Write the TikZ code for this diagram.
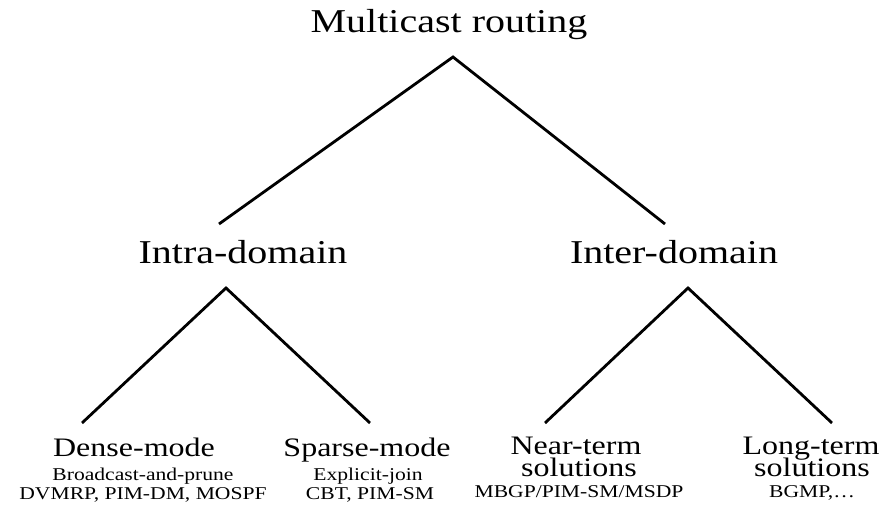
\documentclass[tikz,border=0pt]{standalone}
\usepackage{fontspec}
\setmainfont{Liberation Serif}
\usetikzlibrary{positioning}

\tikzset{
  branch/.style={line width=2.1pt},
  bigtext/.style={font=\fontsize{25}{30}\selectfont, xscale=1.2, anchor=base, inner sep=0pt},
  midtext/.style={font=\fontsize{20}{24}\selectfont, xscale=1.2, anchor=base, inner sep=0pt},
  smalltext/.style={font=\fontsize{13.5}{16}\selectfont, xscale=1.2, anchor=base, inner sep=0pt}
}

\begin{document}
\begin{tikzpicture}
      [x=0.75pt, y=-0.75pt]
      \useasboundingbox (0,0) rectangle (882,516);
      % nodes %
      \node[bigtext] (mc) at (449,33) {Multicast routing};
      \node[bigtext] (intra) at (243,264) {Intra-domain};
      \node[bigtext] (inter) at (674,264) {Inter-domain};

      \node[midtext] (dense) at (134,456) {Dense-mode};
      \node[smalltext] (denseA) at (143,480) {Broadcast-and-prune};
      \node[smalltext] (denseB) at (143,499) {DVMRP, PIM-DM, MOSPF};

      \node[midtext] (sparse) at (367,456) {Sparse-mode};
      \node[smalltext] (sparseA) at (368,480) {Explicit-join};
      \node[smalltext] (sparseB) at (370,499) {CBT, PIM-SM};

      \node[midtext, text depth=0pt] (near) at (576,455) {Near-term};
      \node[midtext] (nearA) at (579,477) {solutions};
      \node[smalltext] (nearB) at (579,498) {MBGP/PIM-SM/MSDP};

      \node[midtext, text depth=0pt] (long) at (811,455) {Long-term};
      \node[midtext] (longA) at (812,477) {solutions};
      \node[smalltext] (longB) at (812,498) {BGMP,…};

      % branch points %
      \coordinate (mc-tip) at (453,57);
      \coordinate (intra-in) at (219,224);
      \coordinate (inter-in) at (665,224);
      \coordinate (intra-tip) at (226,288);
      \coordinate (dense-in) at (82,423);
      \coordinate (sparse-in) at (370,423);
      \coordinate (inter-tip) at (688,288);
      \coordinate (near-in) at (545,423);
      \coordinate (long-in) at (832,423);

      % edges %
      \draw[branch] (intra-in) -- (mc-tip) -- (inter-in);
      \draw[branch] (dense-in) -- (intra-tip) -- (sparse-in);
      \draw[branch] (near-in) -- (inter-tip) -- (long-in);

    \end{tikzpicture}
\end{document}
